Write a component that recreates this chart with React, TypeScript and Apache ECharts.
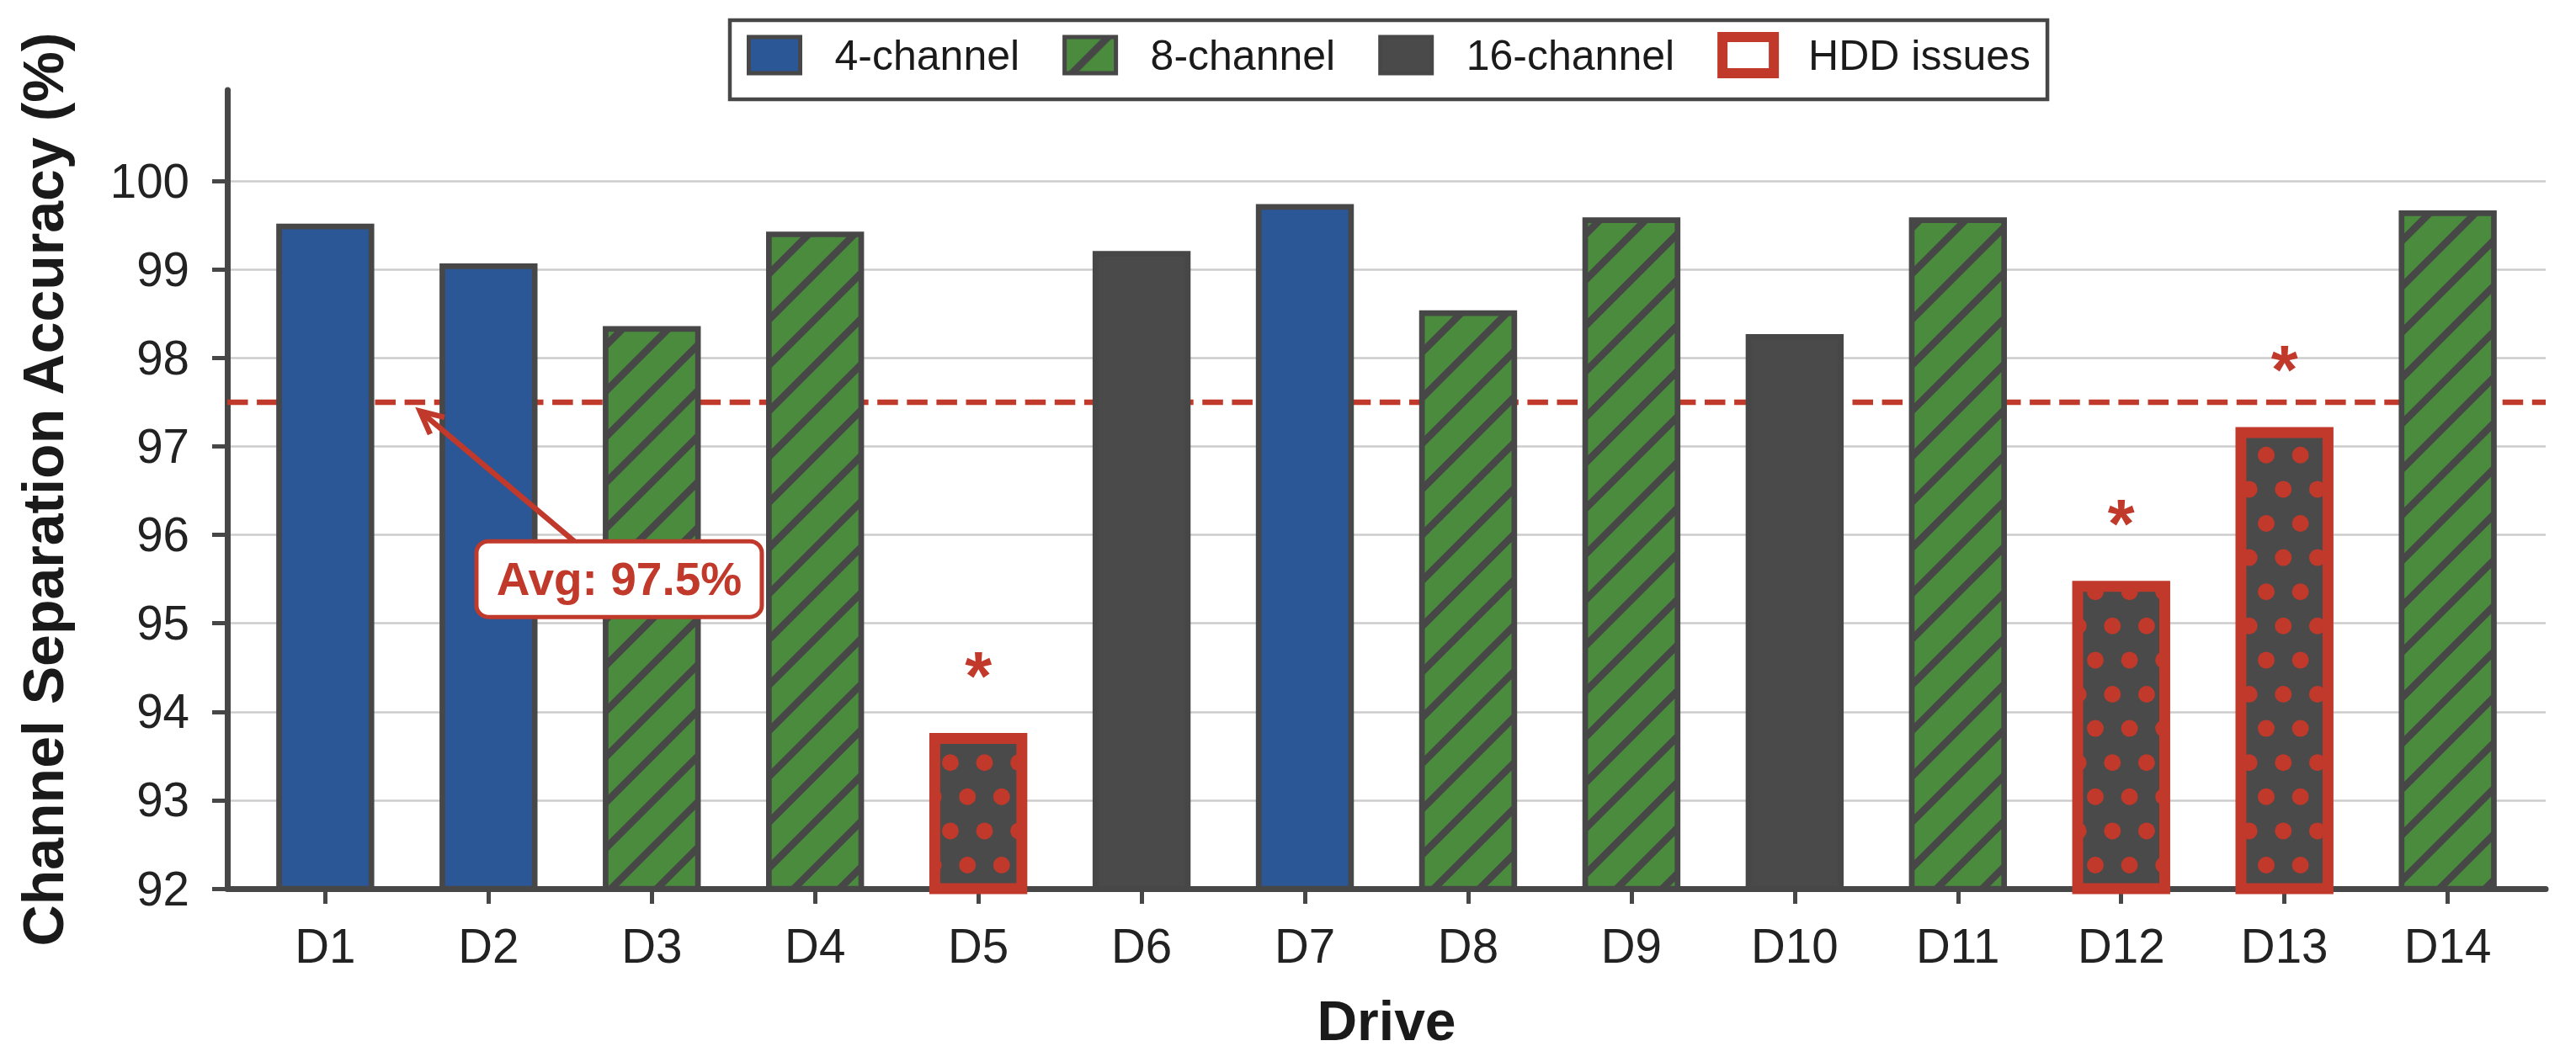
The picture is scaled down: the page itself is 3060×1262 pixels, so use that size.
import React, { useEffect, useRef } from 'react';
import * as echarts from 'echarts';

// ---------------- data ----------------
const drives = ['D1', 'D2', 'D3', 'D4', 'D5', 'D6', 'D7', 'D8', 'D9', 'D10', 'D11', 'D12', 'D13', 'D14'];
const accuracy = [99.52, 99.07, 98.36, 99.43, 93.76, 99.21, 99.74, 98.54, 99.59, 98.27, 99.59, 95.48, 97.22, 99.67];
const channelCount = [4, 4, 8, 8, 16, 16, 4, 8, 8, 16, 8, 16, 16, 8];
const hddIssue = [false, false, false, false, true, false, false, false, false, false, false, true, true, false];
const yTickValues = [92, 93, 94, 95, 96, 97, 98, 99, 100];
const legendNames = ['4-channel', '8-channel', '16-channel', 'HDD issues'];
const averageAccuracy = 97.5;
const averageLabel = 'Avg: 97.5%';
const annotationTextAt = [1.8, 95.5];
const annotationArrowTip = [0.58, 97.4];
const hddMark = '*';
const xRange = [-0.6, 13.6];
const yRange = [92, 101.03];

// ---------------- styles ----------------
const BLUE = '#2b5797';
const GREEN = '#4a8b3e';
const DARK = '#4a4a4a';
const RED = '#c0392b';
const EDGE = '#474747';
const AXIS = '#474747';
const FONT = "'Liberation Sans', Arial, Helvetica, sans-serif";

function hatchPattern(offset: number) {
  const P = 54.3;
  const size = 543;
  const c = document.createElement('canvas');
  c.width = size;
  c.height = size;
  const ctx = c.getContext('2d')!;
  ctx.fillStyle = GREEN;
  ctx.fillRect(0, 0, size, size);
  ctx.strokeStyle = EDGE;
  ctx.lineWidth = 8.5;
  for (let k = -3; k <= 23; k++) {
    const s = offset + k * P;
    ctx.beginPath();
    ctx.moveTo(s + 30, -30);
    ctx.lineTo(s - size - 30, size + 30);
    ctx.stroke();
  }
  return { image: c, repeat: 'repeat', imageWidth: size, imageHeight: size };
}

function dotPattern() {
  const P = 40.6;
  const w = 203;
  const h = 406;
  const c = document.createElement('canvas');
  c.width = w;
  c.height = h;
  const ctx = c.getContext('2d')!;
  ctx.fillStyle = DARK;
  ctx.fillRect(0, 0, w, h);
  ctx.fillStyle = RED;
  for (let m = -1; m <= 10; m++) {
    const y = 13.0 + m * P;
    const odd = ((m % 2) + 2) % 2 === 1;
    const x0 = odd ? 12.4 : 32.7;
    for (let k = -1; k <= 5; k++) {
      ctx.beginPath();
      ctx.arc(x0 + k * P, y, 10, 0, Math.PI * 2);
      ctx.fill();
    }
  }
  return { image: c, repeat: 'repeat', imageWidth: w, imageHeight: h };
}

export default function App() {
  const ref = useRef<HTMLDivElement>(null);

  useEffect(() => {
    if (!ref.current) return;
    const chart = echarts.init(ref.current, undefined, { renderer: 'svg' });

    const barHatch = hatchPattern(44.3);
    const legendHatch = hatchPattern(51.8);
    const dots = dotPattern();

    const pick = (fn: (i: number) => boolean) =>
      drives.map((_, i) => (fn(i) ? [i, accuracy[i]] : null)).filter((d) => d !== null);

    const xTicks = drives.map((_, i) => i);
    const barCommon = { type: 'bar', barWidth: 116.4, barGap: '-100%', z: 2 };

    const splitColors: string[] = [];
    for (let i = 0; i < 9; i++) splitColors.push('#cccccc');
    splitColors.push('rgba(0,0,0,0)', 'rgba(0,0,0,0)');

    chart.setOption({
      animation: false,
      backgroundColor: '#ffffff',
      grid: { left: 270, right: 36, top: 107, bottom: 206, containLabel: false, outerBoundsMode: 'none' },
      legend: {
        show: true,
        orient: 'horizontal',
        left: 867,
        top: 24,
        padding: [14, 20, 25, 20],
        itemWidth: 61,
        itemHeight: 43,
        itemGap: 51,
        icon: 'rect',
        backgroundColor: '#ffffff',
        borderColor: AXIS,
        borderWidth: 4.5,
        borderRadius: 0,
        selectedMode: false,
        textStyle: { fontSize: 50, color: '#1a1a1a', fontFamily: FONT, padding: [0, 0, 0, 36], lineHeight: 50 },
        data: [
          { name: legendNames[0], itemStyle: { color: BLUE, borderColor: EDGE, borderWidth: 5 } },
          { name: legendNames[1], itemStyle: { color: legendHatch, borderColor: EDGE, borderWidth: 5 } },
          { name: legendNames[2], itemStyle: { color: DARK, borderColor: EDGE, borderWidth: 5 } },
          { name: legendNames[3], itemStyle: { color: '#ffffff', borderColor: RED, borderWidth: 12 } },
        ],
      },
      xAxis: {
        type: 'value',
        min: xRange[0],
        max: xRange[1],
        axisLine: { show: true, onZero: false, lineStyle: { color: AXIS, width: 7 } },
        axisTick: { show: true, customValues: xTicks, length: 18, lineStyle: { color: AXIS, width: 5 } },
        axisLabel: {
          customValues: xTicks,
          formatter: (v: number) => drives[Math.round(v)] ?? '',
          fontSize: 56.5,
          color: '#222222',
          margin: 40,
          fontFamily: FONT,
        },
        splitLine: { show: false },
        name: 'Drive',
        nameLocation: 'middle',
        nameGap: 124,
        nameTextStyle: { fontSize: 66, fontWeight: 'bold', color: '#1a1a1a', fontFamily: FONT },
      },
      yAxis: {
        type: 'value',
        min: yRange[0],
        max: yRange[1],
        interval: 1,
        axisLine: { show: true, onZero: false, lineStyle: { color: AXIS, width: 7 } },
        axisTick: { show: true, customValues: yTickValues, length: 18, lineStyle: { color: AXIS, width: 5 } },
        axisLabel: {
          customValues: yTickValues,
          formatter: (v: number) => (v > 100.5 ? '' : String(v)),
          fontSize: 56.5,
          color: '#222222',
          margin: 45,
          fontFamily: FONT,
        },
        splitLine: { show: true, lineStyle: { color: splitColors, width: 2.7 } },
        name: 'Channel Separation Accuracy (%)',
        nameLocation: 'middle',
        nameGap: 185,
        nameTextStyle: { fontSize: 68, fontWeight: 'bold', color: '#1a1a1a', fontFamily: FONT },
      },
      series: [
        {
          type: 'line',
          name: 'Average',
          data: [
            [xRange[0], averageAccuracy],
            [xRange[1], averageAccuracy],
          ],
          symbol: 'none',
          silent: true,
          z: 1,
          lineStyle: { color: RED, width: 6.5, type: [24.5, 10.6] },
        },
        {
          ...barCommon,
          name: legendNames[0],
          data: pick((i) => channelCount[i] === 4 && !hddIssue[i]),
          itemStyle: { color: BLUE, borderColor: EDGE, borderWidth: 6.7 },
        },
        {
          ...barCommon,
          name: legendNames[1],
          data: pick((i) => channelCount[i] === 8 && !hddIssue[i]),
          itemStyle: { color: barHatch, borderColor: EDGE, borderWidth: 6.7 },
        },
        {
          ...barCommon,
          name: legendNames[2],
          data: pick((i) => channelCount[i] === 16 && !hddIssue[i]),
          itemStyle: { color: DARK, borderColor: EDGE, borderWidth: 6.7 },
        },
        {
          ...barCommon,
          name: legendNames[3],
          data: pick((i) => hddIssue[i]),
          itemStyle: { color: dots, borderColor: RED, borderWidth: 13 },
          label: {
            show: true,
            position: 'top',
            distance: 69,
            formatter: hddMark,
            fontSize: 82,
            fontWeight: 'bold',
            color: RED,
            verticalAlign: 'middle',
            fontFamily: FONT,
          },
        },
      ],
    });

    // annotation placed in data coordinates
    const c = chart.convertToPixel({ gridIndex: 0 }, annotationTextAt) as number[];
    const t = chart.convertToPixel({ gridIndex: 0 }, annotationArrowTip) as number[];
    const boxW = 339;
    const boxH = 90;
    const dx = t[0] - c[0];
    const dy = t[1] - c[1];
    const s = Math.min(boxW / 2 / Math.abs(dx), boxH / 2 / Math.abs(dy));
    const start = [c[0] + dx * s, c[1] + dy * s];
    const L = Math.hypot(start[0] - t[0], start[1] - t[1]);
    const ux = (start[0] - t[0]) / L;
    const uy = (start[1] - t[1]) / L;
    const ang = (26 * Math.PI) / 180;
    const head = 30;
    const rot = (a: number) => [
      t[0] + head * (ux * Math.cos(a) - uy * Math.sin(a)),
      t[1] + head * (ux * Math.sin(a) + uy * Math.cos(a)),
    ];
    const w1 = rot(ang);
    const w2 = rot(-ang);

    chart.setOption({
      graphic: [
        {
          type: 'line',
          z: 100,
          shape: { x1: start[0], y1: start[1], x2: t[0] + ux * 2, y2: t[1] + uy * 2 },
          style: { stroke: RED, lineWidth: 6.5 },
          silent: true,
        },
        {
          type: 'polyline',
          z: 100,
          shape: { points: [w1, t, w2] },
          style: { stroke: RED, lineWidth: 6.5, fill: null, lineJoin: 'miter' },
          silent: true,
        },
        {
          type: 'rect',
          z: 101,
          shape: { x: c[0] - boxW / 2, y: c[1] - boxH / 2, width: boxW, height: boxH, r: 14 },
          style: { fill: '#ffffff', stroke: RED, lineWidth: 5 },
          silent: true,
        },
        {
          type: 'text',
          z: 102,
          x: c[0],
          y: c[1],
          style: {
            text: averageLabel,
            fill: RED,
            fontSize: 55,
            fontWeight: 'bold',
            fontFamily: FONT,
            align: 'center',
            verticalAlign: 'middle',
            textAlign: 'center',
            textVerticalAlign: 'middle',
          },
          silent: true,
        },
      ],
    });

    return () => {
      chart.dispose();
    };
  }, []);

  return (
    <div
      ref={ref}
      style={{ position: 'fixed', left: 0, top: 0, width: 3060, height: 1262, background: '#ffffff' }}
    />
  );
}
